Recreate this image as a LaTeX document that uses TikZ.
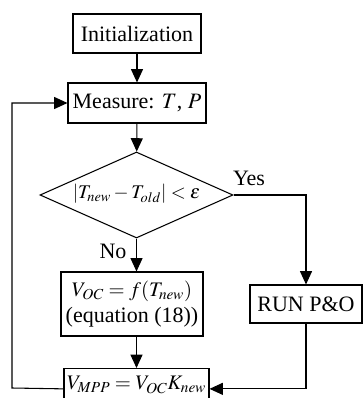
\documentclass[tikz,border=0pt]{standalone}
\usepackage{mathptmx}
\usepackage{fontspec}
\setmainfont{Liberation Serif}
\usetikzlibrary{shapes.geometric,arrows.meta}

\tikzset{
  box/.style={draw, line width=0.8pt, inner sep=0pt, align=center},
  decision/.style={draw, line width=0.8pt, shape=diamond, aspect=2.24, inner sep=0pt,
    text height=8pt, text depth=2pt, minimum width=144.75pt, minimum height=64.5pt,
    font=\fontsize{14.5}{17}\selectfont},
  mathbox/.style={font=\fontsize{15.5}{19}\selectfont},
  arr/.style={line width=0.8pt, -{Triangle[length=10pt,width=9pt]}},
  lbl/.style={inner sep=0.75pt}
}

\begin{document}
\begin{tikzpicture}[x=0.75pt,y=0.75pt,yscale=-1,xscale=1,font=\fontsize{16.5}{19}\selectfont]

\useasboundingbox (0,0) rectangle (363,398);
\clip (0,0) rectangle (363,398);

\node [box, minimum width=96pt, minimum height=29.25pt] (init) at (137,33.5) {Initialization};

\node [box, minimum width=103.5pt, minimum height=30pt] (meas) at (137,103) {Measure: $T$, $P$};

\node [decision] (dec) at (136.5,195) {$\left|T_{new}-T_{old}\right|<\varepsilon$};

\node [box, minimum width=106.5pt, minimum height=48pt] (voc) at (132,304) {{\fontsize{15.5}{19}\selectfont$V_{OC}=f(T_{new})$}\\(equation (18))};

\node [box, minimum width=84pt, minimum height=28.5pt] (run) at (306,304) {RUN P\&O};

% lower box runs past the bottom edge, text kept inside
\node [box, mathbox, anchor=north, minimum width=108.75pt, text height=16pt, text depth=14.5pt] (mpp) at (136.5,368) {$V_{MPP}=V_{OC}K_{new}$};

\coordinate (back) at (12,388);

\draw [arr] (init) -- (meas);

\draw [arr] (meas) -- (dec);

\draw [arr] (dec.south) -- (dec.south |- voc.north);

\draw [arr] (dec.south |- voc.south) -- (dec.south |- mpp.north);

\draw [arr] (dec.east) -| (run.north);

\draw [arr] (run.south) |- (mpp.east);

\draw [arr] (mpp.west) -- (back) |- (meas.west);

\draw (249,178) node [lbl] {Yes};

\draw (113,251) node [lbl] {No};

\end{tikzpicture}
\end{document}
